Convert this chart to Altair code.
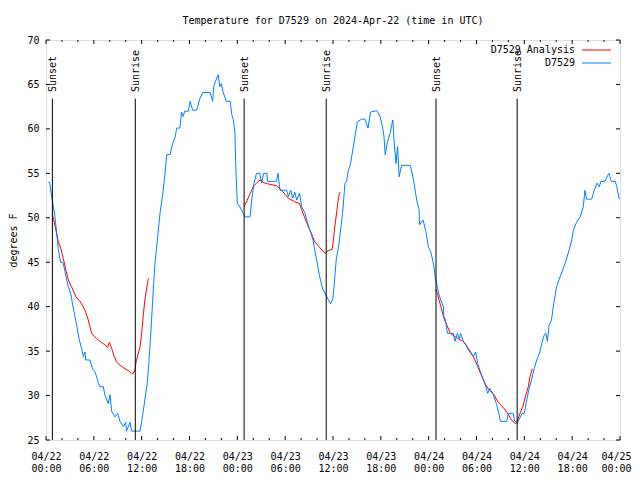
import altair as alt
import pandas as pd

# ---------------- data ----------------
blue_hours = [0.29, 0.45, 0.71, 1.13, 1.34, 1.55, 1.84, 2.17, 2.5, 2.8, 3.1, 3.43, 3.85, 4.18, 4.47, 4.68, 4.9, 4.97,
              5.52, 5.85, 6.15, 6.57, 6.77, 7.19, 7.4, 7.82, 8.03, 8.24, 8.66, 9.0, 9.28, 9.7, 10.0, 10.1, 10.54,
              10.75, 11.8, 12.0, 12.4, 12.7, 12.9, 13.17, 13.46, 13.67, 13.97, 14.3, 14.64, 14.93, 15.14, 15.55,
              15.9, 16.2, 16.4, 16.8, 17.0, 17.2, 17.4, 17.85, 18.07, 18.4, 18.9, 19.3, 19.65, 20.6, 20.9, 21.07,
              21.6, 21.8, 22.0, 22.2, 22.6, 23.1, 23.3, 23.5, 23.7, 23.8, 24.0, 24.3, 24.75, 24.96, 25.6, 25.8,
              26.1, 26.4, 26.8, 27.05, 27.3, 27.7, 27.8, 28.9, 29.1, 29.35, 30.2, 30.4, 30.7, 30.95, 31.2, 31.45,
              31.8, 32.07, 32.5, 32.7, 33.1, 33.5, 33.7, 33.95, 34.3, 34.7, 35.0, 35.4, 35.7, 36.0, 36.2, 36.4,
              36.7, 37.0, 37.2, 37.5, 37.7, 37.9, 38.2, 38.55, 38.9, 39.05, 39.6, 40.0, 40.4, 40.7, 41.5, 41.9,
              42.2, 42.4, 42.55, 42.8, 43.15, 43.5, 43.65, 43.9, 44.1, 44.3, 44.6, 45.7, 46.1, 46.5, 46.8, 46.85,
              47.3, 47.7, 47.95, 48.25, 48.5, 48.7, 48.8, 49.0, 49.2, 49.5, 49.85, 49.9, 50.1, 50.35, 51.1, 51.3,
              51.6, 51.85, 52.0, 52.35, 52.7, 53.0, 53.3, 53.6, 53.9, 54.15, 54.4, 54.8, 55.1, 55.4, 55.7, 56.1,
              56.5, 56.8, 57.0, 57.8, 58.0, 58.6, 58.8, 59.25, 59.5, 59.7, 60.0, 60.3, 60.6, 60.9, 61.2, 61.55,
              61.9, 62.2, 62.5, 62.7, 62.9, 63.1, 63.4, 63.7, 64.05, 64.5, 64.8, 65.2, 65.5, 65.95, 66.15, 66.5,
              67.0, 67.4, 67.6, 67.8, 68.45, 68.7, 69.1, 69.4, 69.6, 70.1, 70.6, 70.9, 71.4, 71.6, 71.9]
blue_temps = [54.0, 54.0, 52.4, 50.1, 48.25, 46.4, 45.0, 44.9, 43.4, 42.25, 41.5, 39.8, 37.9, 36.25, 35.3, 34.4, 34.9,
              34.0, 34.0, 32.95, 32.7, 31.4, 31.0, 31.0, 30.0, 29.1, 30.1, 28.2, 27.6, 28.0, 27.1, 26.5, 27.0, 26.0,
              27.0, 26.0, 26.0, 27.1, 29.5, 31.4, 33.6, 37.4, 41.9, 44.9, 47.5, 50.5, 52.6, 55.0, 57.1, 57.1, 58.4,
              59.1, 60.1, 60.1, 61.9, 61.4, 62.0, 62.0, 63.1, 62.1, 62.1, 63.4, 64.1, 64.1, 63.1, 64.9, 66.1, 64.75,
              65.1, 64.2, 63.1, 63.1, 61.6, 61.0, 59.5, 55.75, 51.6, 51.25, 50.5, 50.1, 50.1, 52.0, 53.9, 55.0,
              55.0, 53.9, 55.0, 55.0, 54.1, 54.1, 55.0, 53.1, 53.1, 52.4, 53.1, 52.2, 52.9, 52.0, 52.75, 51.25,
              50.5, 49.75, 48.6, 47.5, 46.4, 45.25, 43.5, 42.0, 41.5, 40.8, 40.3, 41.0, 43.0, 45.25, 46.75, 49.0,
              50.5, 53.9, 54.1, 55.2, 56.1, 58.0, 59.9, 60.8, 61.1, 61.1, 60.1, 61.9, 62.05, 61.4, 60.25, 59.1,
              57.1, 58.4, 59.5, 61.0, 58.75, 56.1, 58.0, 54.6, 55.9, 55.9, 54.25, 52.0, 50.9, 49.2, 49.75, 48.25,
              46.75, 46.2, 45.25, 44.3, 43.4, 42.6, 41.7, 40.75, 40.0, 38.9, 38.5, 37.0, 37.0, 36.1, 37.0, 36.4,
              37.0, 36.1, 35.7, 35.1, 34.75, 34.4, 34.9, 33.6, 32.9, 31.9, 31.2, 30.25, 30.8, 30.1, 29.1, 28.0,
              27.1, 27.1, 28.0, 28.0, 27.1, 27.1, 27.6, 28.0, 28.0, 29.5, 30.8, 31.75, 32.9, 34.0, 34.75, 35.9,
              36.85, 37.0, 36.1, 37.9, 38.5, 40.4, 42.25, 43.4, 44.1, 45.1, 46.0, 47.5, 48.6, 49.4, 50.1, 51.25,
              53.1, 52.1, 52.1, 52.9, 53.9, 53.5, 54.1, 54.1, 55.0, 54.1, 54.1, 53.5, 52.1]

red1_hours = [0.8, 1.25, 1.55, 1.84, 2.17, 2.5, 2.8, 3.2, 3.76, 4.26, 4.9, 5.3, 5.73, 6.36, 6.77, 7.4, 7.73, 7.95,
              8.24, 8.53, 8.86, 9.5, 10.04, 10.54, 10.87, 11.17, 11.3, 11.58, 11.8, 12.0, 12.2, 12.4, 12.6, 12.84]
red1_temps = [50.4, 48.6, 47.3, 46.6, 45.4, 44.1, 43.0, 42.25, 41.1, 40.6, 39.6, 38.5, 37.0, 36.4, 36.1, 35.7, 35.4,
              36.0, 35.3, 34.45, 33.75, 33.25, 32.95, 32.7, 32.4, 32.9, 33.8, 34.75, 35.5, 37.0, 39.0, 40.75, 41.9,
              43.2]
red2_hours = [24.84, 25.2, 25.6, 26.0, 26.4, 26.85, 27.3, 27.9, 28.95, 29.55, 30.4, 31.2, 31.8, 32.07, 32.5, 32.9,
              33.3, 33.7, 34.4, 35.0, 35.4, 35.9, 36.05, 36.25, 36.5, 36.7, 36.9]
red2_temps = [51.25, 51.9, 52.7, 53.5, 53.9, 54.25, 53.95, 53.8, 53.6, 53.1, 52.2, 51.8, 51.6, 50.9, 49.9, 49.0,
              48.25, 47.3, 46.6, 46.0, 46.3, 46.45, 47.5, 49.2, 50.9, 52.4, 52.9]
red3_hours = [48.9, 49.1, 49.3, 49.6, 49.9, 50.3, 50.7, 51.2, 51.7, 52.35, 53.0, 53.6, 54.1, 54.5, 55.1, 55.6, 56.1,
              56.7, 57.4, 57.9, 58.4, 58.9, 59.1, 59.45, 59.8, 60.2, 60.5, 60.7, 61.0]
red3_temps = [42.0, 41.5, 40.75, 39.8, 38.7, 37.9, 37.0, 36.7, 36.4, 36.1, 35.3, 34.4, 33.4, 32.5, 31.3, 30.6, 30.2,
              29.3, 28.6, 28.0, 27.25, 26.8, 27.1, 28.0, 28.75, 30.1, 31.0, 32.1, 33.0]

sun_hours = [0.8, 11.2, 24.85, 35.15, 48.92, 59.1]
sun_labels = ["Sunset", "Sunrise", "Sunset", "Sunrise", "Sunset", "Sunrise"]

x_tick_hours = [0, 6, 12, 18, 24, 30, 36, 42, 48, 54, 60, 66, 72]
x_tick_dates = ["04/22", "04/22", "04/22", "04/22", "04/23", "04/23", "04/23", "04/23",
                "04/24", "04/24", "04/24", "04/24", "04/25"]
x_tick_times = ["00:00", "06:00", "12:00", "18:00", "00:00", "06:00", "12:00", "18:00",
                "00:00", "06:00", "12:00", "18:00", "00:00"]
x_minor_hours = [h for h in range(0, 73, 2) if h % 6 != 0]
y_ticks = [25, 30, 35, 40, 45, 50, 55, 60, 65, 70]

series_names = ["D7529 Analysis", "D7529"]
series_colors = ["#ff0000", "#0080ff"]

# ---------------- frames ----------------
blue_df = pd.DataFrame({"h": blue_hours, "t": blue_temps})
red_df = pd.concat([
    pd.DataFrame({"h": red1_hours, "t": red1_temps, "seg": 1}),
    pd.DataFrame({"h": red2_hours, "t": red2_temps, "seg": 2}),
    pd.DataFrame({"h": red3_hours, "t": red3_temps, "seg": 3}),
])
sun_df = pd.DataFrame({"h": sun_hours, "label": sun_labels, "t": 25.0, "t2": 63.4, "tl": 64.15})
xmaj_df = pd.DataFrame({"h": x_tick_hours})
xmin_df = pd.DataFrame({"h": x_minor_hours})
y_df = pd.DataFrame({"t": y_ticks})

W, H = 574, 400
FONT = "DejaVu Sans Mono"

label_arr = "[" + ",".join("['%s','%s']" % (d, t) for d, t in zip(x_tick_dates, x_tick_times)) + "]"
xaxis = alt.Axis(values=x_tick_hours, labelExpr=label_arr + "[round(datum.value/6)]",
                 ticks=False, domain=False, grid=False, title=None, labelPadding=11,
                 labelLineHeight=12, labelFontSize=10, labelFont=FONT, labelColor="black",
                 labelFlush=False, labelOverlap=False,
                 labelOffset={"condition": {"test": "datum.value >= 72", "value": -4}, "value": 0})
yaxis = alt.Axis(values=y_ticks, ticks=False, domain=False, grid=False, title="degrees F",
                 labelPadding=7, labelFontSize=10, labelFont=FONT, labelColor="black",
                 titleFont=FONT, titleFontSize=10, titleFontWeight="normal", titleColor="black",
                 titleAngle=270, titleX=-33, titleY=200, titleAlign="center", titleBaseline="middle")

X = alt.X("h:Q", scale=alt.Scale(domain=[0, 72], nice=False, zero=False), axis=xaxis)
Y = alt.Y("t:Q", scale=alt.Scale(domain=[25, 70], nice=False, zero=False), axis=yaxis)

red = alt.Chart(red_df).mark_line(color=series_colors[0], strokeWidth=1).encode(x=X, y=Y, detail="seg:N")
blue = alt.Chart(blue_df).mark_line(color=series_colors[1], strokeWidth=1).encode(x=X, y=Y)

sun_rule = alt.Chart(sun_df).mark_rule(color="black", strokeWidth=1).encode(x=X, y=Y, y2="t2:Q")
sun_text = alt.Chart(sun_df).mark_text(angle=270, align="left", baseline="middle", font=FONT, fontSize=10,
                                       color="black", dx=0, dy=1).encode(
    x=X, y=alt.Y("tl:Q", scale=alt.Scale(domain=[25, 70], nice=False, zero=False), axis=yaxis), text="label:N")

tick_style = dict(color="black", strokeWidth=1)
xmaj_b = alt.Chart(xmaj_df).mark_rule(**tick_style).encode(x=X, y=alt.value(H), y2=alt.value(H - 4))
xmaj_t = alt.Chart(xmaj_df).mark_rule(**tick_style).encode(x=X, y=alt.value(0), y2=alt.value(4))
xmin_b = alt.Chart(xmin_df).mark_rule(**tick_style).encode(x=X, y=alt.value(H), y2=alt.value(H - 2))
xmin_t = alt.Chart(xmin_df).mark_rule(**tick_style).encode(x=X, y=alt.value(0), y2=alt.value(2))
y_l = alt.Chart(y_df).mark_rule(**tick_style).encode(y=Y, x=alt.value(0), x2=alt.value(4))
y_r = alt.Chart(y_df).mark_rule(**tick_style).encode(y=Y, x=alt.value(W), x2=alt.value(W - 4))

one = pd.DataFrame({"k": [0]})
leg_layers = []
for i, (name, col) in enumerate(zip(series_names, series_colors)):
    yy = 10 + 13 * i
    leg_layers.append(alt.Chart(one).mark_text(align="right", baseline="middle", font=FONT, fontSize=10,
                                               color="black").encode(
        x=alt.value(529), y=alt.value(yy), text=alt.value(name)))
    leg_layers.append(alt.Chart(one).mark_rule(color=col, strokeWidth=1).encode(
        x=alt.value(536), x2=alt.value(565), y=alt.value(yy)))

chart = alt.layer(
    red, blue, sun_rule, sun_text, xmaj_b, xmaj_t, xmin_b, xmin_t, y_l, y_r, *leg_layers
).properties(
    width=W, height=H,
    padding={"left": 38, "top": 32, "right": 12, "bottom": 32},
    autosize=alt.AutoSizeParams(type="none"),
    title=alt.Title("Temperature for D7529 on 2024-Apr-22 (time in UTC)", font=FONT, fontSize=10,
                    fontWeight="normal", color="black", anchor="middle", offset=9),
).configure_view(stroke="black", strokeWidth=1).configure(background="white")

chart.save("out.html", embed_options={"renderer": "svg", "actions": False})
